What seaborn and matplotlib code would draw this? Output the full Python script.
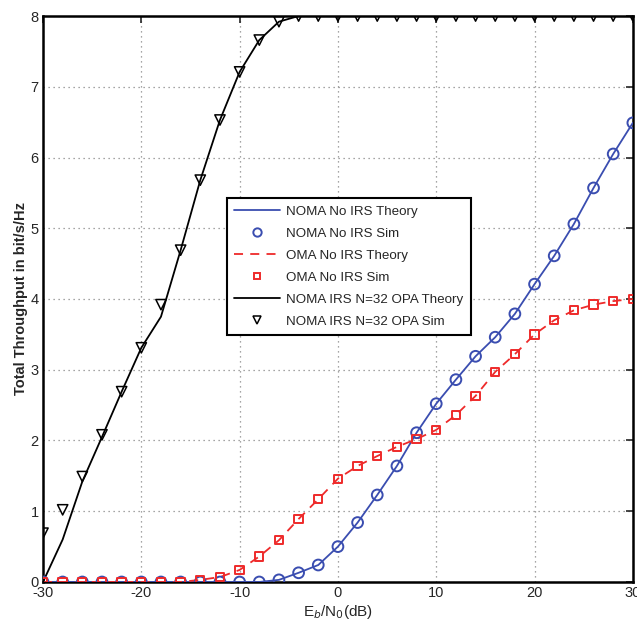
import numpy as np
import pandas as pd
import matplotlib
matplotlib.use("Agg")
import matplotlib.pyplot as plt
import seaborn as sns
from matplotlib.lines import Line2D

snr = list(range(-30, 31, 2))

noma_no_irs = [0, 0, 0, 0, 0, 0, 0, 0, 0, 0, 0, 0,
               0.03, 0.13, 0.24, 0.50, 0.84, 1.23, 1.64, 2.11, 2.52, 2.86,
               3.19, 3.46, 3.79, 4.21, 4.61, 5.06, 5.57, 6.05, 6.49]
oma_no_irs = [0, 0, 0, 0, 0, 0, 0, 0,
              0.03, 0.07, 0.17, 0.36, 0.59, 0.89, 1.17, 1.46, 1.64, 1.78,
              1.91, 2.02, 2.15, 2.36, 2.63, 2.97, 3.22, 3.50, 3.70, 3.84,
              3.92, 3.97, 4.00]
irs_sim = [0.69, 1.02, 1.49, 2.08, 2.69, 3.31, 3.92, 4.69, 5.68, 6.53, 7.21,
           7.66, 7.92, 8.0, 8.0, 8.0, 8.0, 8.0, 8.0, 8.0, 8.0, 8.0, 8.0, 8.0,
           8.0, 8.0, 8.0, 8.0, 8.0, 8.0, 8.0]
irs_theory = [0.0, 0.60, 1.42, 2.05, 2.69, 3.31, 3.75, 4.69, 5.68, 6.53, 7.21,
              7.66, 7.92, 8.0, 8.0, 8.0, 8.0, 8.0, 8.0, 8.0, 8.0, 8.0, 8.0,
              8.0, 8.0, 8.0, 8.0, 8.0, 8.0, 8.0, 8.0]

labels = ["NOMA No IRS Theory", "NOMA No IRS Sim", "OMA No IRS Theory",
          "OMA No IRS Sim", "NOMA IRS N=32 OPA Theory", "NOMA IRS N=32 OPA Sim"]

blue = "#3a4db0"
red = "#ee2a2a"
black = "#000000"

sns.set_style("white")
plt.rcParams["font.family"] = ["Liberation Sans", "DejaVu Sans"]
plt.rcParams["axes.unicode_minus"] = False

df = pd.DataFrame({"snr": snr, "noma": noma_no_irs, "oma": oma_no_irs,
                   "irs_sim": irs_sim, "irs_th": irs_theory})

fig = plt.figure(figsize=(6.37, 6.33), dpi=100)
ax = fig.add_axes([0.0675, 0.0806, 0.926, 0.8941])

sns.lineplot(data=df, x="snr", y="noma", ax=ax, color=blue, lw=1.3, zorder=3)
sns.scatterplot(data=df, x="snr", y="noma", ax=ax, marker="o", s=60,
                facecolors="none", edgecolor=blue, linewidth=1.4, zorder=4)
sns.lineplot(data=df, x="snr", y="oma", ax=ax, color=red, lw=1.3, zorder=3)
ax.lines[-1].set_dashes([5, 4])
sns.scatterplot(data=df, x="snr", y="oma", ax=ax, marker="s", s=36,
                facecolors="none", edgecolor=red, linewidth=1.4, zorder=5)
sns.lineplot(data=df, x="snr", y="irs_th", ax=ax, color=black, lw=1.3, zorder=3)
sns.scatterplot(data=df, x="snr", y="irs_sim", ax=ax, marker="v", s=55,
                facecolors="none", edgecolor=black, linewidth=1.1, zorder=4)

ax.set_xlim(-30, 30)
ax.set_ylim(0, 8)
ax.set_xticks([-30, -20, -10, 0, 10, 20, 30])
ax.set_yticks(range(0, 9))
ax.grid(True, linestyle=(0, (1, 3)), color="#888888", lw=0.9)
for s in ax.spines.values():
    s.set_linewidth(1.8)
    s.set_color("black")
ax.tick_params(direction="in", length=5, width=1.2, top=True, right=True,
               labelsize=10.5, pad=3)
ax.set_xlabel(r"E$_b$/N$_0$(dB)", fontsize=11, labelpad=2)
ax.set_ylabel("Total Throughput in bit/s/Hz", fontsize=10.5, fontweight="bold",
              labelpad=2)

handles = [
    Line2D([], [], color=blue, lw=1.3),
    Line2D([], [], color=blue, marker="o", ls="none", mfc="none", ms=6, mew=1.4),
    Line2D([], [], color=red, lw=1.3, dashes=[5, 4]),
    Line2D([], [], color=red, marker="s", ls="none", mfc="none", ms=5, mew=1.4),
    Line2D([], [], color=black, lw=1.3),
    Line2D([], [], color=black, marker="v", ls="none", mfc="none", ms=6, mew=1.1),
]
leg = ax.legend(handles, labels, loc="upper left",
                bbox_to_anchor=(0.312, 0.678), borderaxespad=0,
                fontsize=9.6, frameon=True,
                fancybox=False, edgecolor="black", framealpha=1,
                handlelength=3.4, labelspacing=0.72, borderpad=0.55,
                handletextpad=0.5)
leg.get_frame().set_linewidth(1.5)

fig.savefig("out.png", dpi=100)
